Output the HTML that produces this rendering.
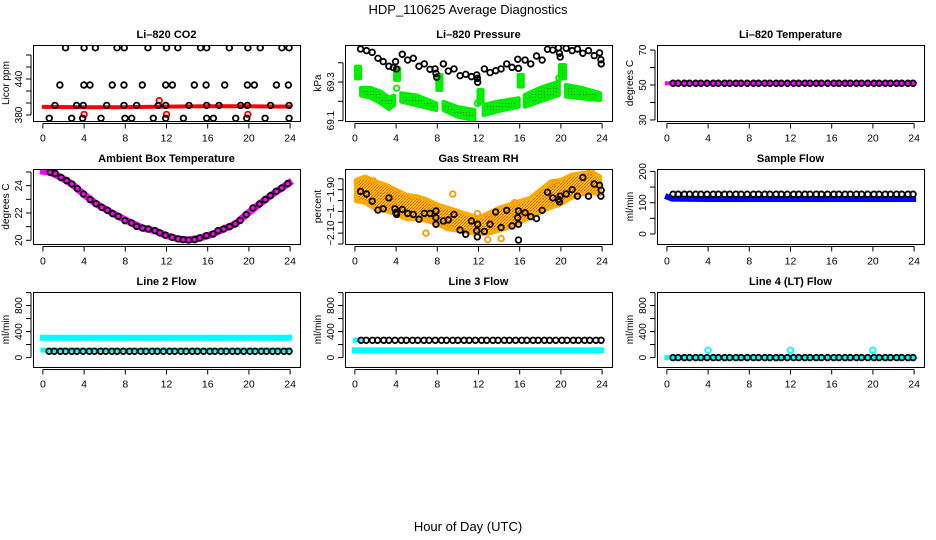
<!DOCTYPE html>
<html><head><meta charset="utf-8"><style>
html,body{margin:0;padding:0;background:#fff}
svg{display:block;font-family:"Liberation Sans",Arial,sans-serif}
</style></head><body>
<svg id="fig" width="936" height="540" viewBox="0 0 936 540">
<defs>
<pattern id="pGreen" width="3" height="3" patternUnits="userSpaceOnUse"><rect width="3" height="3" fill="#00ee00"/><rect x="1" y="1" width="1" height="1" fill="#226622"/></pattern>
<pattern id="pOrange" width="3" height="3" patternUnits="userSpaceOnUse"><rect width="3" height="3" fill="#ffcc00"/><rect x="0" y="0" width="1" height="1" fill="#ff3300"/><rect x="2" y="1" width="1" height="1" fill="#ff3300"/><rect x="1" y="2" width="1" height="1" fill="#ff6600"/></pattern>
</defs>
<text x="468" y="14" font-size="13" text-anchor="middle">HDP_110625  Average Diagnostics</text>
<text x="468" y="531" font-size="13" text-anchor="middle">Hour of Day (UTC)</text>
</svg>
<script>
const xTicks = [0,4,8,12,16,20,24];
const regHours = [0.6,1.1,1.7,2.2,2.8,3.3,3.9,4.5,5.0,5.6,6.1,6.7,7.2,7.8,8.4,8.9,9.5,10.0,10.6,11.1,11.7,12.3,12.8,13.4,13.9,14.5,15.0,15.6,16.2,16.7,17.3,17.8,18.4,18.9,19.5,20.1,20.6,21.2,21.7,22.3,22.8,23.4,23.9];

// CO2
const co2Hours = [2.2,4.0,5.1,7.2,7.9,10.2,12.0,13.1,15.3,15.9,18.1,19.9,21.1,23.2,23.9, 1.65,3.98,4.57,6.73,7.87,9.65,11.92,12.57,14.7,15.84,17.65,19.85,20.53,22.67,23.83, 1.17,3.27,3.92,6.19,7.87,9.1,11.2,11.92,14.19,15.9,17.1,19.2,19.85,22.1,23.9, 0.62,2.79,3.86,5.64,7.97,8.62,10.72,11.92,13.64,15.9,16.55,18.72,19.79,21.57,23.9];
const co2Vals = [492,492,492,492,492,492,492,492,492,492,492,492,492,492,492, 430,430,430,430,430,430,430,430,430,430,430,430,430,430,430, 396,396,396,396,396,396,396,396,396,396,396,396,396,396,396, 374.5,374.5,374.5,374.5,374.5,374.5,374.5,374.5,374.5,374.5,374.5,374.5,374.5,374.5,374.5];
const co2BandHours = [0.1,4,8,12,16,20,23.9];
const co2BandVals = [393.5,393,393,394,394.5,394.5,394];
const co2RedHours = [4.0,11.3,12.0,19.9];
const co2RedVals = [381,404,381,381];

// Pressure
const presHours = [0.55,1.13,1.68,2.24,2.75,3.30,3.73,3.95,4.05,4.60,5.12,5.67,6.22,6.74,7.29,7.78,7.87,7.94,8.59,9.07,9.62,10.21,10.76,11.31,11.83,11.89,11.92,12.57,13.12,13.67,14.19,14.74,15.26,15.81,15.88,16.52,17.07,17.63,18.18,18.70,19.21,19.76,19.86,19.93,20.51,21.09,21.61,22.13,22.68,23.23,23.75,23.88,23.91];
const presVals = [69.471,69.463,69.454,69.423,69.406,69.382,69.375,69.406,69.368,69.444,69.414,69.423,69.382,69.394,69.366,69.368,69.345,69.325,69.394,69.357,69.368,69.333,69.340,69.328,69.337,69.319,69.299,69.368,69.349,69.359,69.368,69.394,69.376,69.418,69.371,69.414,69.394,69.435,69.414,69.470,69.466,69.478,69.449,69.430,69.475,69.463,69.471,69.449,69.463,69.437,69.451,69.416,69.394];
const presBandHours = [[0.1,0.5],[0.6,1.5,2.5,3.3,3.8],[3.9,4.3],[4.5,6,7.9],[8.0,8.4],[8.6,10,11.6],[12.0,12.4],[12.5,14,15.9],[15.9,16.3],[16.5,18,19.8],[19.9,20.4],[20.5,22,23.8]];
const presBandUpper = [[69.380,69.380],[69.27,69.27,69.25,69.22,69.23],[69.371,69.371],[69.242,69.23,69.19],[69.337,69.337],[69.198,69.17,69.155],[69.259,69.259],[69.181,69.2,69.216],[69.337,69.337],[69.233,69.27,69.302],[69.388,69.388],[69.285,69.27,69.242]];
const presBandLower = [[69.319,69.319],[69.23,69.22,69.19,69.16,69.18],[69.311,69.311],[69.198,69.18,69.155],[69.259,69.259],[69.155,69.12,69.103],[69.19,69.19],[69.129,69.15,69.172],[69.276,69.276],[69.172,69.2,69.233],[69.319,69.319],[69.224,69.215,69.207]];
const presGreenPtHours = [4.05,11.9,19.8];
const presGreenPtVals = [69.268,69.19,69.32];

// Li-820 temperature
const tempBandHours = [0.0,23.9];
const tempBandVals = [51,51];
const tempCircleVals = [51,51,51,51,51,51,51,51,51,51,51,51,51,51,51,51,51,51,51,51,51,51,51,51,51,51,51,51,51,51,51,51,51,51,51,51,51,51,51,51,51,51,51];

// Ambient box temperature
const ambHours = [0.71,1.19,1.77,2.32,2.81,3.35,3.94,4.58,5.16,5.71,6.26,6.77,7.32,7.97,8.61,9.10,9.68,10.23,10.87,11.36,11.9,12.55,13.13,13.61,14.16,14.74,15.23,15.87,16.52,17.0,17.55,18.13,18.68,19.16,19.74,20.39,21.03,21.58,22.1,22.65,23.19,23.77];
const ambVals = [24.98,24.9,24.6,24.37,24.12,23.78,23.39,22.98,22.68,22.41,22.2,21.95,21.76,21.44,21.27,21.02,20.9,20.83,20.71,20.54,20.37,20.22,20.1,20.05,20.02,20.05,20.17,20.34,20.46,20.71,20.83,21.0,21.2,21.46,21.88,22.37,22.66,22.98,23.27,23.59,23.83,24.15];
const ambBandHours = [0.05,0.71,1.77,2.81,3.94,5.16,6.26,7.32,8.61,9.68,10.87,11.9,13.13,14.16,15.23,16.52,17.55,18.68,19.74,21.03,22.1,23.19,23.9];
const ambBandVals = [25.05,24.98,24.6,24.12,23.39,22.68,22.2,21.76,21.27,20.9,20.71,20.37,20.1,20.02,20.17,20.46,20.83,21.2,21.88,22.66,23.27,23.83,24.2];

// Gas stream RH
const rhBandHours = [0.1,1,2,3,4,5,6,7,8,9,10,11,12,13,14,15,16,17,18,19,20,21,22,23,23.8];
const rhBandUpper = [-1.855,-1.839,-1.862,-1.877,-1.900,-1.923,-1.930,-1.945,-1.968,-1.983,-1.998,-2.014,-2.029,-2.006,-1.983,-1.968,-1.953,-1.938,-1.900,-1.862,-1.855,-1.832,-1.824,-1.817,-1.839];
const rhBandLower = [-1.953,-1.961,-1.991,-1.998,-2.014,-2.036,-2.036,-2.044,-2.059,-2.082,-2.089,-2.097,-2.105,-2.102,-2.089,-2.074,-2.052,-2.029,-2.006,-1.983,-1.968,-1.938,-1.923,-1.915,-1.923];
const rhHours = [0.55,1.13,1.68,2.24,2.75,3.30,3.89,3.98,4.05,4.60,5.12,5.67,6.22,6.74,7.29,7.87,7.87,7.87,8.59,9.07,9.62,10.21,10.76,11.31,11.83,11.89,11.92,12.57,13.12,13.67,14.19,14.74,15.26,15.81,15.88,15.88,15.88,16.52,17.07,17.63,18.18,18.70,19.21,19.76,19.86,19.93,20.51,21.09,21.61,22.13,22.68,23.23,23.75,23.88,23.91];
const rhVals = [-1.908,-1.920,-1.953,-1.994,-1.988,-1.938,-1.988,-2.006,-2.014,-1.991,-2.009,-2.014,-2.036,-2.009,-2.009,-1.998,-2.029,-2.059,-2.044,-2.039,-2.014,-2.086,-2.105,-2.044,-2.089,-2.117,-2.059,-2.092,-2.059,-2.003,-2.074,-1.995,-2.067,-2.029,-1.998,-2.059,-2.132,-2.006,-2.024,-2.033,-1.995,-1.912,-1.938,-1.945,-1.956,-1.930,-1.920,-1.900,-1.930,-1.844,-1.930,-1.874,-1.880,-1.930,-1.903];
const rhOutHours = [1.8,6.9,9.5,11.9,12.9,14.2,15.5,19.4,22.9];
const rhOutVals = [-1.86,-2.10,-1.92,-2.01,-2.13,-2.125,-1.96,-1.87,-1.81];

// Sample flow
const sfBandHours = [0.1,0.5,4,8,12,16,20,23.9];
const sfBandVals = [118,113,112,112,112,112,112,112];
const sfCircleVals = [127,127,127,127,127,127,127,127,127,127,127,127,127,127,127,127,127,127,127,127,127,127,127,127,127,127,127,127,127,127,127,127,127,127,127,127,127,127,127,127,127,127,127];

// Line 2
const l2UpperHours = [0,23.9];
const l2UpperVals = [305,305];
const l2LowerHours = [0,23.9];
const l2LowerVals = [115,115];
const l2CircleVals = [97,97,97,97,97,97,97,97,97,97,97,97,97,97,97,97,97,97,97,97,97,97,97,97,97,97,97,97,97,97,97,97,97,97,97,97,97,97,97,97,97,97,97];

// Line 3
const l3BandHours = [0,23.9];
const l3BandVals = [113,113];
const l3StartHours = [0.05,0.4];
const l3StartVals = [268,268];
const l3CircleVals = [266,266,266,266,266,266,266,266,266,266,266,266,266,266,266,266,266,266,266,266,266,266,266,266,266,266,266,266,266,266,266,266,266,266,266,266,266,266,266,266,266,266,266];

// Line 4
const l4BandHours = [0,23.9];
const l4BandVals = [0,0];
const l4PtHours = [4.0,12.0,20.0];
const l4PtVals = [112,112,112];
const l4CircleVals = [0,0,0,0,0,0,0,0,0,0,0,0,0,0,0,0,0,0,0,0,0,0,0,0,0,0,0,0,0,0,0,0,0,0,0,0,0,0,0,0,0,0,0];

const NS = 'http://www.w3.org/2000/svg';
const svg = document.getElementById('fig');
function mk(parent, tag, attrs){
  const e = document.createElementNS(NS, tag);
  for (const k in attrs) e.setAttribute(k, attrs[k]);
  parent.appendChild(e);
  return e;
}
const rowTops = [45,169,292];
const rowH = [76,75,75];

function makePanel(ci, ri, ymin, ymax, ticks, labels, title, ylab, slug){
  const L = 33 + ci*312, T = rowTops[ri], Wd = 267, H = rowH[ri];
  const g = mk(svg,'g',{});
  
  
  const x = h => L + (h + 0.96) * Wd / 25.92;
  const y = v => T + (ymax - v) / (ymax - ymin) * H;
  const plot = mk(g,'g',{});
  
  
  const cp = mk(svg,'clipPath',{id:'clip'+slug});
  mk(cp,'rect',{x:L,y:T,width:Wd,height:H});
  plot.setAttribute('clip-path','url(#clip'+slug+')');
  const box = mk(g,'rect',{x:L+0.5,y:T+0.5,width:Wd,height:H,fill:'none',stroke:'#000','stroke-width':1});
  
  
  const t = mk(g,'text',{x:L+Wd/2,y:T-7,'font-size':11,'font-weight':'bold','text-anchor':'middle'});
  t.textContent = title;
  
  
  const yl = mk(g,'text',{transform:`translate(${L-24},${T+H/2}) rotate(-90)`,'font-size':10,'text-anchor':'middle'});
  yl.textContent = ylab;
  
  
  const bx = T + H + 0.5;
  mk(g,'line',{x1:x(0),x2:x(24),y1:bx+2,y2:bx+2,stroke:'#000'});
  xTicks.forEach(h=>{
    mk(g,'line',{x1:x(h),x2:x(h),y1:bx+2,y2:bx+7,stroke:'#000'});
    const tl = mk(g,'text',{x:x(h),y:bx+20,'font-size':10.5,'text-anchor':'middle'});
    tl.textContent = h;
    
    
  });
  mk(g,'line',{x1:L-2,x2:L-2,y1:y(ticks[0]),y2:y(ticks[ticks.length-1]),stroke:'#000'});
  ticks.forEach(v=>{
    mk(g,'line',{x1:L-7,x2:L-2,y1:y(v),y2:y(v),stroke:'#000'});
  });
  labels.forEach(([v,s])=>{
    const tl = mk(g,'text',{transform:`translate(${L-11},${y(v)}) rotate(-90)`,'font-size':10,'text-anchor':'middle'});
    tl.textContent = s;
    
    
  });
  return {g:plot,x,y};
}
function band(p, hs, vs, color, w, name){
  const e = mk(p.g,'polyline',{points:hs.map((h,i)=>p.x(h)+','+p.y(vs[i])).join(' '),fill:'none',stroke:color,'stroke-width':w,'stroke-linejoin':'round','stroke-linecap':'square'});
  
  
}
function area(p, hs, up, lo, fill, name){
  const pts = hs.map((h,i)=>p.x(h)+','+p.y(up[i])).concat(hs.slice().reverse().map((h,i)=>p.x(h)+','+p.y(lo[hs.length-1-i])));
  const e = mk(p.g,'polygon',{points:pts.join(' '),fill:fill,stroke:fill==='url(#pGreen)'?'#00ee00':'#ffaa00','stroke-width':4,'stroke-linejoin':'round'});
  
  
}
function pts(p, hs, vs, color, name, r){
  hs.forEach((h,i)=>{
    const c = mk(p.g,'circle',{cx:p.x(h),cy:p.y(vs[i]),r:r||2.8,fill:'none',stroke:color,'stroke-width':1.8});
    
    
  });
}

let p = makePanel(0,0,370,496.7,[380,400,420,440,460,480],[[380,'380'],[440,'440']],'Li\u2013820 CO2','Licor ppm','co2');
band(p, co2BandHours, co2BandVals, '#ff0000', 4, 'co2-band');
pts(p, co2RedHours, co2RedVals, '#ff0000', 'co2-red-point');
pts(p, co2Hours, co2Vals, '#000', 'co2-point');

p = makePanel(1,0,69.098,69.492,[69.1,69.2,69.3,69.4],[[69.1,'69.1'],[69.3,'69.3']],'Li\u2013820 Pressure','kPa','pressure');
presBandHours.forEach((hs,i)=>area(p, hs, presBandUpper[i], presBandLower[i], 'url(#pGreen)', 'pressure-band'));
pts(p, presGreenPtHours, presGreenPtVals, '#00ee00', 'pressure-green-point');
pts(p, presHours, presVals, '#000', 'pressure-point');

p = makePanel(2,0,29.4,72.9,[30,40,50,60,70],[[30,'30'],[50,'50'],[70,'70']],'Li\u2013820 Temperature','degrees C','li820-temp');
band(p, tempBandHours, tempBandVals, '#ff00ff', 4, 'li820-temp-band');
pts(p, regHours, tempCircleVals, '#000', 'li820-temp-point');

p = makePanel(0,1,19.73,25.22,[20,21,22,23,24,25],[[20,'20'],[22,'22'],[24,'24']],'Ambient Box Temperature','degrees C','ambient-temp');
band(p, ambBandHours, ambBandVals, '#ff00ff', 7, 'ambient-temp-band');
pts(p, ambHours, ambVals, '#000', 'ambient-temp-point');

p = makePanel(1,1,-2.15,-1.805,[-2.15,-2.10,-2.05,-2.00,-1.95,-1.90,-1.85],[[-2.10,'\u22122.10'],[-2.00,'\u22121.'],[-1.90,'\u22121.90']],'Gas Stream RH','percent','rh');
area(p, rhBandHours, rhBandUpper, rhBandLower, 'url(#pOrange)', 'rh-band');
pts(p, rhOutHours, rhOutVals, '#ff9900', 'rh-outlier-point');
pts(p, rhHours, rhVals, '#000', 'rh-point');

p = makePanel(2,1,-32,207.7,[0,50,100,150,200],[[0,'0'],[100,'100'],[200,'200']],'Sample Flow','ml/min','sample-flow');
band(p, sfBandHours, sfBandVals, '#0000ff', 6, 'sample-flow-band');
pts(p, regHours, sfCircleVals, '#000', 'sample-flow-point');

const lt = [0,200,400,600,800,1000], ll = [[0,'0'],[400,'400'],[800,'800']];
p = makePanel(0,2,-145,1009,lt,ll,'Line 2 Flow','ml/min','line2');
band(p, l2UpperHours, l2UpperVals, '#00ffff', 6, 'line2-upper-band');
band(p, l2LowerHours, l2LowerVals, '#00ffff', 5, 'line2-lower-band');
pts(p, regHours, l2CircleVals, '#000', 'line2-point');

p = makePanel(1,2,-145,1009,lt,ll,'Line 3 Flow','ml/min','line3');
band(p, l3BandHours, l3BandVals, '#00ffff', 6, 'line3-band');
band(p, l3StartHours, l3StartVals, '#00ffff', 5, 'line3-start-band');
pts(p, regHours, l3CircleVals, '#000', 'line3-point');

p = makePanel(2,2,-145,1009,lt,ll,'Line 4 (LT) Flow','ml/min','line4');
band(p, l4BandHours, l4BandVals, '#00ffff', 5, 'line4-band');
pts(p, l4PtHours, l4PtVals, '#00ffff', 'line4-cyan-point');
pts(p, regHours, l4CircleVals, '#000', 'line4-point');
</script>
</body></html>
